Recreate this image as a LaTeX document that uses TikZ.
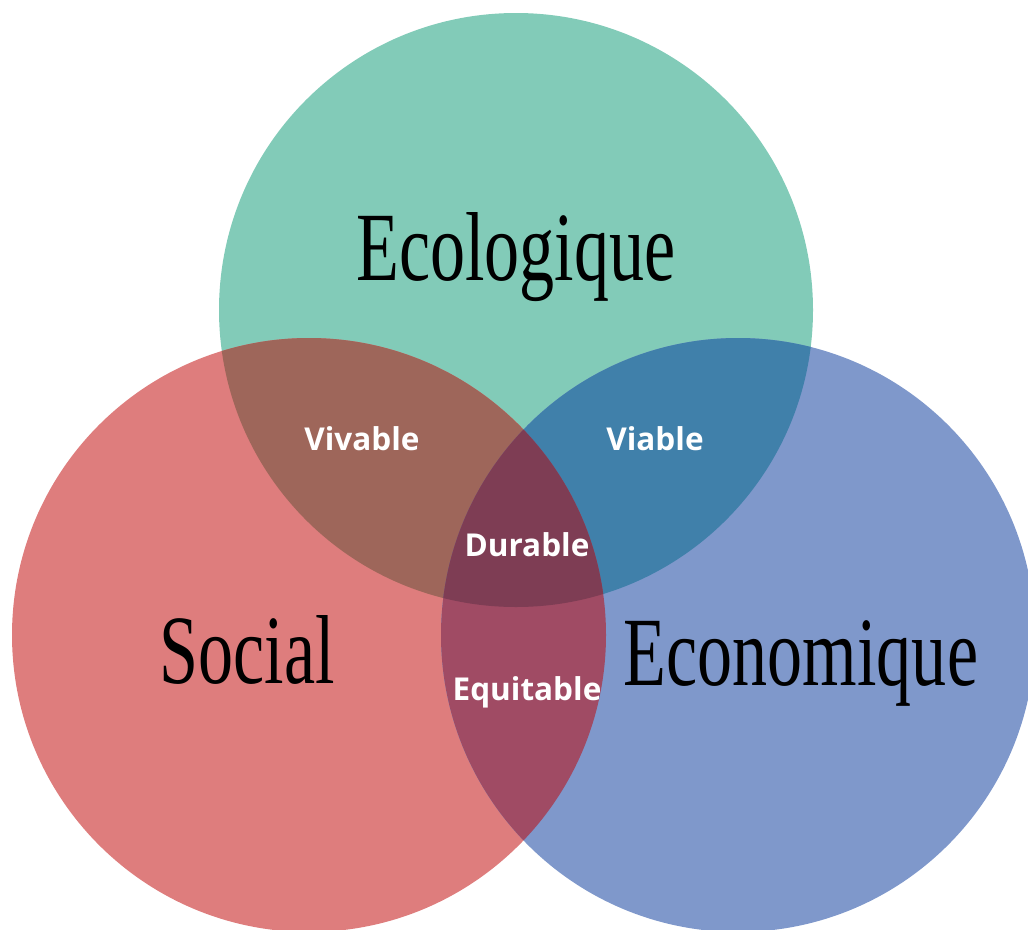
\documentclass[tikz,border=0pt]{standalone}
\usepackage{fontspec}
\setmainfont{Liberation Serif}
\newfontfamily\labelfont{Open Sans}
\usepackage{tikz}
\usetikzlibrary{calc}

\definecolor{ecoGreen}{RGB}{130,203,184}
\definecolor{socRed}{RGB}{222,125,125}
\definecolor{ecnBlue}{RGB}{127,152,203}
\definecolor{vivColor}{RGB}{158,102,90}
\definecolor{viaColor}{RGB}{64,128,170}
\definecolor{equColor}{RGB}{160,75,100}
\definecolor{durColor}{RGB}{126,61,84}

\begin{document}
\begin{tikzpicture}[x=1pt,y=-1pt,
	bigtext/.style={anchor=base,inner sep=0pt,xscale=0.715,font=\fontsize{98}{98}\selectfont},
	smalltext/.style={anchor=base,inner sep=0pt,text=white,font=\labelfont\bfseries\fontsize{31.5}{31.5}\selectfont}]
			\useasboundingbox (0,0) rectangle (1028,929);
			\coordinate (ce) at (516,310);
			\coordinate (cs) at (309,635);
			\coordinate (cn) at (738,635);
			\def\rad{297pt}
			%circles
			\fill[ecoGreen] (ce) circle[radius=\rad];
			\fill[socRed] (cs) circle[radius=\rad];
			\fill[ecnBlue] (cn) circle[radius=\rad];
			%overlaps of two
			\begin{scope}
				\clip (ce) circle[radius=\rad];
				\fill[vivColor] (cs) circle[radius=\rad];
				\fill[viaColor] (cn) circle[radius=\rad];
			\end{scope}
			\begin{scope}
				\clip (cs) circle[radius=\rad];
				\fill[equColor] (cn) circle[radius=\rad];
			\end{scope}
			%overlap of three
			\begin{scope}
				\clip (ce) circle[radius=\rad];
				\clip (cs) circle[radius=\rad];
				\fill[durColor] (cn) circle[radius=\rad];
			\end{scope}
			%titles
			\node[bigtext] (eco) at (516,280) {Ecologique};
			\node[bigtext] (soc) at (247,683) {Social};
			\node[bigtext] (ecn) at (801,685) {Economique};
			%labels
			\node[smalltext] (viv) at (362,450) {Vivable};
			\node[smalltext] (via) at (655,450) {Viable};
			\node[smalltext] (dur) at (527,556) {Durable};
			\node[smalltext] (equ) at (527,700) {Equitable};
\end{tikzpicture}
\end{document}
